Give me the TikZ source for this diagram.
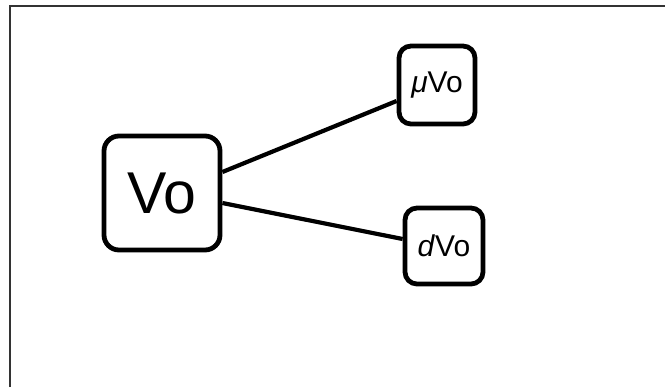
\documentclass[tikz,border=0pt]{standalone}
\usepackage{fontspec}
\setmainfont{Liberation Sans}
\begin{document}
\begin{tikzpicture}[x=0.5pt,y=-0.5pt,
  box/.style={draw=black,line width=2.4pt,rounded corners=6pt,inner sep=0pt},
  link/.style={line width=2.1pt}]
\useasboundingbox (0,0) rectangle (665,387);
\draw[line width=1pt,black!80] (10,387)--(10,6)--(665,6);

\node (vo) at (162,193) [box,minimum width=58pt,minimum height=57pt,rounded corners=7.5pt,font=\fontsize{29.5}{30}\selectfont]{Vo};
\node (mu) at (437,85) [box,minimum width=38pt,minimum height=39pt,font=\fontsize{15}{16}\selectfont]{\textit{μ}Vo};
\node (d) at (444,246) [box,minimum width=39pt,minimum height=38pt,font=\fontsize{15}{16}\selectfont]{\textit{d}Vo};

\draw[link] ([yshift=10.5pt]vo.east)--([yshift=-8pt]mu.west);
\draw[link] ([yshift=-5pt]vo.east)--([yshift=3.5pt]d.west);
\end{tikzpicture}
\end{document}
